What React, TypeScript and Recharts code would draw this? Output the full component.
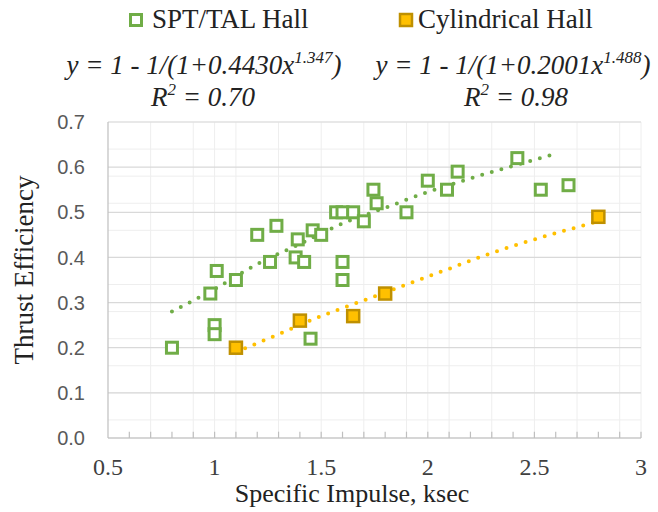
import React from "react";
import {
  CartesianGrid,
  ComposedChart,
  Line,
  ReferenceLine,
  Scatter,
  XAxis,
  YAxis,
} from "recharts";

// SPT/TAL Hall thrusters: specific impulse (ksec) vs thrust efficiency
const sptIsp = [
  0.8, 0.98, 1.01, 1.0, 1.0, 1.1, 1.2, 1.26, 1.29, 1.39, 1.38, 1.42, 1.45,
  1.46, 1.5, 1.6, 1.6, 1.57, 1.6, 1.65, 1.7, 1.745, 1.76, 1.9, 2.0, 2.09,
  2.14, 2.42, 2.53, 2.66,
];
const sptEff = [
  0.2, 0.32, 0.37, 0.25, 0.23, 0.35, 0.45, 0.39, 0.47, 0.44, 0.4, 0.39, 0.22,
  0.46, 0.45, 0.39, 0.35, 0.5, 0.5, 0.5, 0.48, 0.55, 0.52, 0.5, 0.57, 0.55,
  0.59, 0.62, 0.55, 0.56,
];

// Cylindrical Hall thrusters
const cylIsp = [1.1, 1.4, 1.65, 1.8, 2.8];
const cylEff = [0.2, 0.26, 0.27, 0.32, 0.49];

// trendlines
const sptTrendX = [0.8, 1.0, 1.2, 1.4, 1.6, 1.8, 2.0, 2.2, 2.4, 2.58];
const sptTrendY = [0.28, 0.33, 0.385, 0.43, 0.475, 0.51, 0.545, 0.575, 0.603, 0.627];
const cylTrendX = [1.1, 1.3, 1.5, 1.7, 1.9, 2.1, 2.3, 2.5, 2.7, 2.8];
const cylTrendY = [0.19, 0.23, 0.27, 0.305, 0.34, 0.375, 0.41, 0.44, 0.467, 0.48];

const xTicks = [0.5, 1, 1.5, 2, 2.5, 3];
const yTicks = [0, 0.1, 0.2, 0.3, 0.4, 0.5, 0.6, 0.7];

const xMinor = Array.from({ length: 25 }, (_, i) => +(0.6 + i * 0.1).toFixed(1));
const yMinor = Array.from({ length: 36 }, (_, i) => +(i * 0.02).toFixed(2));

const GREEN = "#70AD47";
const GOLD = "#FFC000";
const GOLD_EDGE = "#BF9000";
const SERIF = "'Liberation Serif', 'Times New Roman', serif";
const SANS = "'Liberation Sans', Arial, sans-serif";

const zip = (xs: number[], ys: number[]) => xs.map((x, i) => ({ x, y: ys[i] }));

const sptData = zip(sptIsp, sptEff);
const cylData = zip(cylIsp, cylEff);
const sptTrend = zip(sptTrendX, sptTrendY);
const cylTrend = zip(cylTrendX, cylTrendY);

const HollowSquare = (props: any) => {
  const { cx, cy } = props;
  if (cx == null || cy == null) return null;
  return (
    <rect x={cx - 5.5} y={cy - 5.5} width={11} height={11} fill="#fff" stroke={GREEN} strokeWidth={3} />
  );
};

const GoldSquare = (props: any) => {
  const { cx, cy } = props;
  if (cx == null || cy == null) return null;
  return (
    <rect x={cx - 6} y={cy - 6} width={12} height={12} fill={GOLD} stroke={GOLD_EDGE} strokeWidth={2.5} />
  );
};

const dotted = { strokeWidth: 4, strokeDasharray: "0 10", strokeLinecap: "round" as const };

export default function App() {
  return (
    <div style={{ position: "absolute", left: 0, top: 0, width: 658, height: 512, background: "#fff" }}>
      <ComposedChart
        width={658}
        height={512}
        margin={{ top: 122, right: 17, bottom: 14, left: 0 }}
      >
        <CartesianGrid
          horizontalValues={yMinor}
          verticalValues={xMinor}
          stroke="#eeeeee"
          strokeWidth={1}
        />
        <CartesianGrid horizontalValues={yTicks} vertical={false} stroke="#d9d9d9" strokeWidth={1.2} />
        <XAxis
          type="number"
          dataKey="x"
          domain={[0.5, 3]}
          ticks={xTicks}
          tickFormatter={(v: number) => String(v)}
          height={60}
          tickLine={false}
          tickMargin={14}
          axisLine={{ stroke: "#bfbfbf", strokeWidth: 1.2 }}
          tick={{ fontFamily: SERIF, fontSize: 24, fill: "#404040" }}
          allowDataOverflow
        />
        <YAxis
          type="number"
          domain={[0, 0.7]}
          ticks={yTicks}
          tickFormatter={(v: number) => v.toFixed(1)}
          width={108}
          tickLine={false}
          tickMargin={17}
          axisLine={{ stroke: "#bfbfbf", strokeWidth: 1.2 }}
          tick={{ fontFamily: SANS, fontSize: 20, fill: "#595959" }}
          allowDataOverflow
        />
        {xMinor.map((v) => (
          <ReferenceLine
            key={"t" + v}
            segment={[
              { x: v, y: 0 },
              { x: v, y: 0.014 },
            ]}
            stroke="#bfbfbf"
            strokeWidth={1.2}
          />
        ))}
        <Scatter data={sptData} dataKey="y" shape={HollowSquare} isAnimationActive={false} />
        <Scatter data={cylData} dataKey="y" shape={GoldSquare} isAnimationActive={false} />
        <Line
          data={sptTrend}
          dataKey="y"
          type="monotone"
          stroke={GREEN}
          {...dotted}
          dot={false}
          activeDot={false}
          isAnimationActive={false}
        />
        <Line
          data={cylTrend}
          dataKey="y"
          type="monotone"
          stroke={GOLD}
          {...dotted}
          dot={false}
          activeDot={false}
          isAnimationActive={false}
        />
      </ComposedChart>
      <svg
        width={658}
        height={512}
        style={{ position: "absolute", left: 0, top: 0, pointerEvents: "none" }}
      >
        <rect x={130.5} y={14.5} width={11} height={11} fill="#fff" stroke={GREEN} strokeWidth={3} />
        <text x={152} y={28} fontFamily={SERIF} fontSize={27} fill="#222">
          SPT/TAL Hall
        </text>
        <rect x={400} y={14} width={12} height={12} fill={GOLD} stroke={GOLD_EDGE} strokeWidth={2.5} />
        <text x={418} y={28} fontFamily={SERIF} fontSize={27} fill="#222">
          Cylindrical Hall
        </text>

        <g fontFamily={SERIF} fontStyle="italic" fontSize={27} fill="#222" textAnchor="middle">
          <text x={204} y={74}>
            y = 1 - 1/(1+0.4430x
            <tspan dy={-11} fontSize={17}>1.347</tspan>
            <tspan dy={11}>)</tspan>
          </text>
          <text x={203} y={106}>
            R<tspan dy={-11} fontSize={17}>2</tspan>
            <tspan dy={11}> = 0.70</tspan>
          </text>
          <text x={513} y={74}>
            y = 1 - 1/(1+0.2001x
            <tspan dy={-11} fontSize={17}>1.488</tspan>
            <tspan dy={11}>)</tspan>
          </text>
          <text x={516} y={106}>
            R<tspan dy={-11} fontSize={17}>2</tspan>
            <tspan dy={11}> = 0.98</tspan>
          </text>
        </g>

        <text
          transform="translate(33,270) rotate(-90)"
          textAnchor="middle"
          fontFamily={SERIF}
          fontSize={27}
          fill="#222"
        >
          Thrust Efficiency
        </text>
        <text x={352} y={502} textAnchor="middle" fontFamily={SERIF} fontSize={26} fill="#222">
          Specific Impulse, ksec
        </text>
      </svg>
    </div>
  );
}
